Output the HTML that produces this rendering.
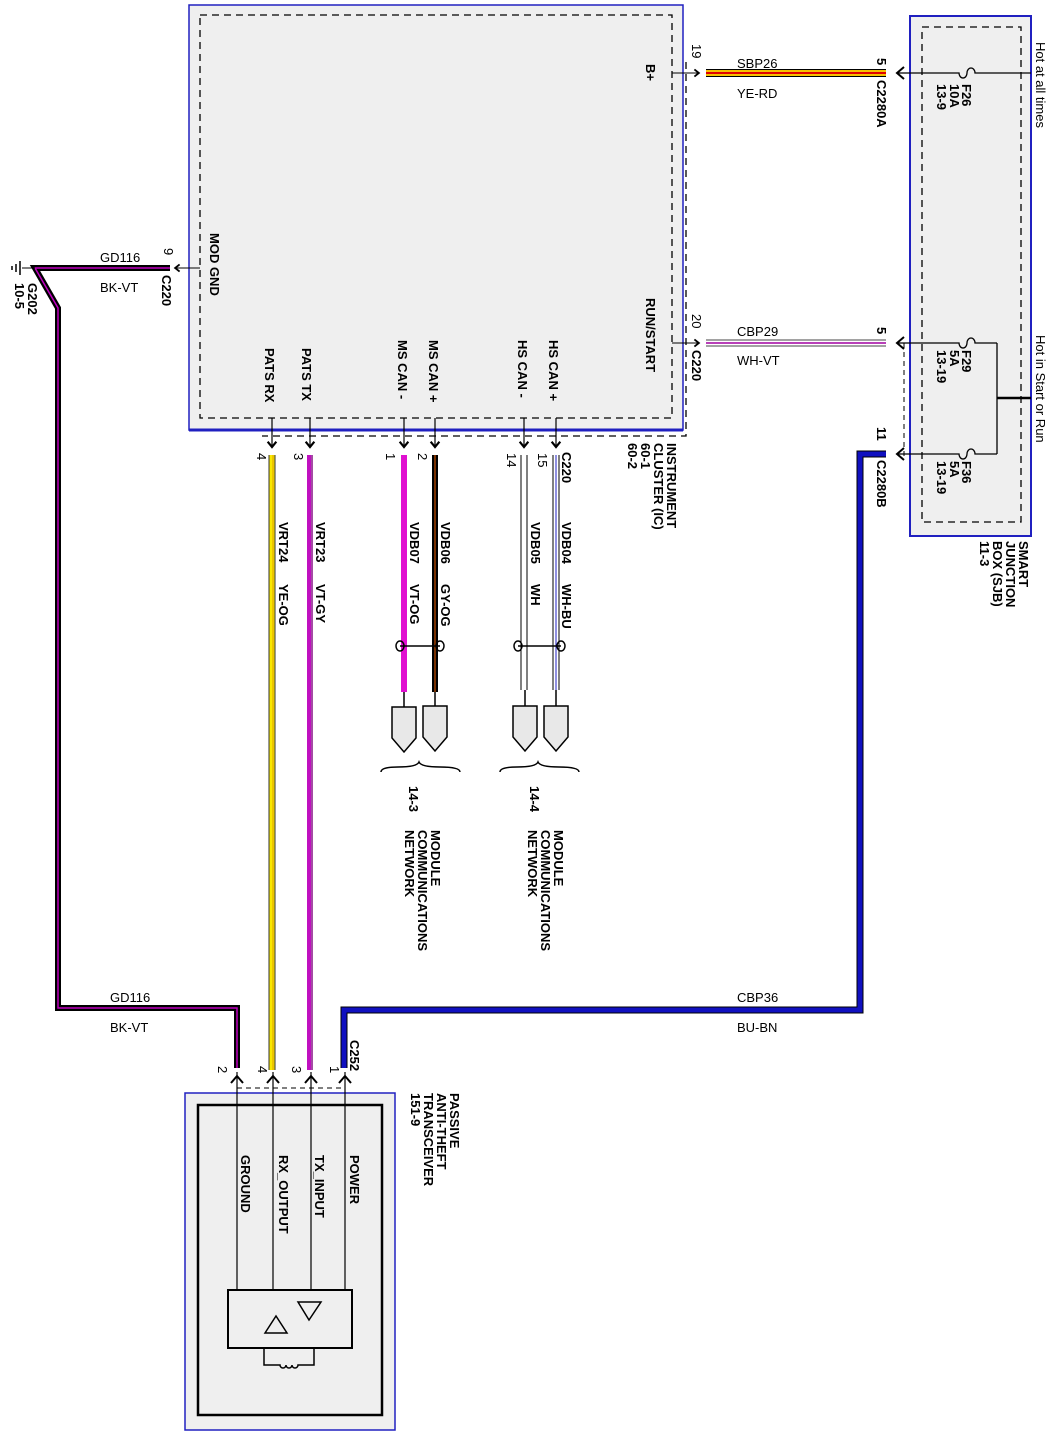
<!DOCTYPE html>
<html><head><meta charset="utf-8"><style>
html,body{margin:0;padding:0;background:#fff}
svg{display:block}
text{font-family:"Liberation Sans",Arial,sans-serif;font-size:13px;fill:#000}
.b{font-weight:bold}
</style></head><body>
<svg width="1063" height="1455" viewBox="0 0 1063 1455" xmlns="http://www.w3.org/2000/svg">
<defs>
<marker id="ar" viewBox="0 0 10 10" refX="5" refY="5" markerWidth="9" markerHeight="9" orient="auto"><path d="M1,1 L6,5 L1,9" fill="none" stroke="#000" stroke-width="2"/></marker>
</defs>
<rect x="189" y="5" width="494" height="425" fill="#efefef" stroke="#2020c0" stroke-width="1.5"/>
<line x1="189" y1="430" x2="683" y2="430" stroke="#2020c0" stroke-width="3"/>
<rect x="200" y="15" width="472" height="403" fill="none" stroke="#000" stroke-dasharray="7,5" stroke-width="1.3"/>
<polyline points="686,62 686,436 262,436" fill="none" stroke="#000" stroke-dasharray="7,5" stroke-width="1.3"/>
<text class="b" transform="translate(210,233) rotate(90)">MOD GND</text>
<text class="b" transform="translate(646,64) rotate(90)">B+</text>
<text class="b" transform="translate(646,298) rotate(90)">RUN/START</text>
<text class="b" transform="translate(265,348) rotate(90)">PATS RX</text>
<text class="b" transform="translate(302,348) rotate(90)">PATS TX</text>
<text class="b" transform="translate(398,340) rotate(90)">MS CAN -</text>
<text class="b" transform="translate(429,340) rotate(90)">MS CAN +</text>
<text class="b" transform="translate(518,340) rotate(90)">HS CAN -</text>
<text class="b" transform="translate(549,340) rotate(90)">HS CAN +</text>
<text class="b" transform="translate(667,443) rotate(90)">INSTRUMENT</text>
<text class="b" transform="translate(654,443) rotate(90)">CLUSTER (IC)</text>
<text class="b" transform="translate(641,443) rotate(90)">60-1</text>
<text class="b" transform="translate(628,443) rotate(90)">60-2</text>

<line x1="672" y1="73" x2="698" y2="73" stroke="#000" marker-end="url(#ar)"/>
<line x1="672" y1="343" x2="698" y2="343" stroke="#000" marker-end="url(#ar)"/>
<line x1="706" y1="73" x2="886" y2="73" stroke="#000" stroke-width="8"/>
<line x1="706" y1="73" x2="886" y2="73" stroke="#f6c000" stroke-width="6"/>
<line x1="706" y1="73" x2="886" y2="73" stroke="#e00000" stroke-width="2"/>
<line x1="706" y1="343" x2="886" y2="343" stroke="#444" stroke-width="7"/>
<line x1="706" y1="343" x2="886" y2="343" stroke="#fff" stroke-width="5"/>
<line x1="706" y1="343" x2="886" y2="343" stroke="#a000a0" stroke-width="1.5"/>
<text x="737" y="68">SBP26</text><text x="737" y="98">YE-RD</text>
<text x="737" y="336">CBP29</text><text x="737" y="365">WH-VT</text>
<text transform="translate(692,44) rotate(90)">19</text>
<text transform="translate(692,314) rotate(90)">20</text>
<text class="b" transform="translate(692,350) rotate(90)">C220</text>
<text class="b" transform="translate(877,58) rotate(90)">5</text>
<text class="b" transform="translate(877,80) rotate(90)">C2280A</text>
<text class="b" transform="translate(877,327) rotate(90)">5</text>
<text class="b" transform="translate(877,427) rotate(90)">11</text>
<text class="b" transform="translate(877,460) rotate(90)">C2280B</text>

<rect x="910" y="16" width="121" height="520" fill="#efefef" stroke="#2020c0" stroke-width="2"/>
<rect x="922" y="27" width="99" height="495" fill="none" stroke="#000" stroke-dasharray="7,5" stroke-width="1.3"/>
<path d="M1031,73 H975 a4,5 0 0 0 -8,0 a4,5 0 0 1 -8,0 H898" fill="none" stroke="#000" stroke-width="1.3"/>
<path d="M997,343 H975 a4,5 0 0 0 -8,0 a4,5 0 0 1 -8,0 H898" fill="none" stroke="#000" stroke-width="1.3"/>
<path d="M997,454 H975 a4,5 0 0 0 -8,0 a4,5 0 0 1 -8,0 H898" fill="none" stroke="#000" stroke-width="1.3"/>
<line x1="997" y1="343" x2="997" y2="454" stroke="#000" stroke-width="1.3"/>
<line x1="997" y1="398" x2="1031" y2="398" stroke="#000" stroke-width="2.5"/>
<polyline points="904,67 897,73 904,79" fill="none" stroke="#000" stroke-width="2"/>
<polyline points="904,337 897,343 904,349" fill="none" stroke="#000" stroke-width="2"/>
<polyline points="904,448 897,454 904,460" fill="none" stroke="#000" stroke-width="2"/>
<polyline points="904,343 904,458" fill="none" stroke="#000" stroke-dasharray="5,4"/>
<text class="b" transform="translate(962,84) rotate(90)">F26</text>
<text class="b" transform="translate(950,84) rotate(90)">10A</text>
<text class="b" transform="translate(937,84) rotate(90)">13-9</text>
<text class="b" transform="translate(962,350) rotate(90)">F29</text>
<text class="b" transform="translate(950,350) rotate(90)">5A</text>
<text class="b" transform="translate(937,350) rotate(90)">13-19</text>
<text class="b" transform="translate(962,461) rotate(90)">F36</text>
<text class="b" transform="translate(950,461) rotate(90)">5A</text>
<text class="b" transform="translate(937,461) rotate(90)">13-19</text>
<text transform="translate(1036,42) rotate(90)">Hot at all times</text>
<text transform="translate(1036,335) rotate(90)">Hot in Start or Run</text>
<text class="b" transform="translate(1019,541) rotate(90)">SMART</text>
<text class="b" transform="translate(1006,541) rotate(90)">JUNCTION</text>
<text class="b" transform="translate(993,541) rotate(90)">BOX (SJB)</text>
<text class="b" transform="translate(980,541) rotate(90)">11-3</text>

<line x1="200" y1="268" x2="176" y2="268" stroke="#000" marker-end="url(#ar)"/>
<polyline points="170,268 35,268 58,308 58,1008 237,1008 237,1068" fill="none" stroke="#000" stroke-width="6"/>
<polyline points="170,268 35,268 58,308 58,1008 237,1008 237,1068" fill="none" stroke="#c000c0" stroke-width="1.5"/>
<line x1="22" y1="268" x2="35" y2="268" stroke="#000"/>
<line x1="20" y1="261" x2="20" y2="275" stroke="#000" stroke-width="1.5"/>
<line x1="16" y1="264" x2="16" y2="272" stroke="#000" stroke-width="1.5"/>
<line x1="12" y1="266" x2="12" y2="270" stroke="#000" stroke-width="1.5"/>
<text x="100" y="262">GD116</text><text x="100" y="292">BK-VT</text>
<text transform="translate(164,248) rotate(90)">9</text>
<text class="b" transform="translate(162,275) rotate(90)">C220</text>
<text class="b" transform="translate(28,283) rotate(90)">G202</text>
<text class="b" transform="translate(15,283) rotate(90)">10-5</text>
<text x="110" y="1002">GD116</text><text x="110" y="1032">BK-VT</text>

<polyline points="886,454 860,454 860,1010 344,1010 344,1068" fill="none" stroke="#000" stroke-width="7"/>
<polyline points="886,454 860,454 860,1010 344,1010 344,1068" fill="none" stroke="#1010c0" stroke-width="5"/>
<text x="737" y="1002">CBP36</text><text x="737" y="1032">BU-BN</text>

<g stroke="#000" stroke-width="1.2" fill="none">
<line x1="272" y1="418" x2="272" y2="446" marker-end="url(#ar)"/>
<line x1="310" y1="418" x2="310" y2="446" marker-end="url(#ar)"/>
<line x1="404" y1="418" x2="404" y2="446" marker-end="url(#ar)"/>
<line x1="435" y1="418" x2="435" y2="446" marker-end="url(#ar)"/>
<line x1="524" y1="418" x2="524" y2="446" marker-end="url(#ar)"/>
<line x1="556" y1="418" x2="556" y2="446" marker-end="url(#ar)"/>
</g>
<line x1="272" y1="455" x2="272" y2="1070" stroke="#333" stroke-width="7"/>
<line x1="272" y1="455" x2="272" y2="1070" stroke="#f8e800" stroke-width="5"/>
<line x1="273" y1="455" x2="273" y2="1070" stroke="#e0a000" stroke-width="1"/>
<line x1="310" y1="455" x2="310" y2="1070" stroke="#c010c0" stroke-width="6"/>
<line x1="312" y1="455" x2="312" y2="1070" stroke="#888" stroke-width="1"/>
<line x1="404" y1="455" x2="404" y2="692" stroke="#e010d0" stroke-width="6"/>
<line x1="435" y1="455" x2="435" y2="692" stroke="#000" stroke-width="6"/>
<line x1="435" y1="455" x2="435" y2="692" stroke="#a04000" stroke-width="1.5"/>
<g stroke="#000" stroke-width="1">
<line x1="521" y1="455" x2="521" y2="690"/><line x1="527" y1="455" x2="527" y2="690"/>
<line x1="553" y1="455" x2="553" y2="690"/><line x1="559" y1="455" x2="559" y2="690"/>
</g>
<line x1="556" y1="455" x2="556" y2="690" stroke="#2020c0" stroke-width="1"/>
<g fill="none" stroke="#000" stroke-width="1.5">
<ellipse cx="400" cy="646" rx="4" ry="5"/><ellipse cx="440" cy="646" rx="4" ry="5"/><line x1="400" y1="646" x2="440" y2="646"/>
<ellipse cx="518" cy="646" rx="4" ry="5"/><ellipse cx="561" cy="646" rx="4" ry="5"/><line x1="518" y1="646" x2="561" y2="646"/>
</g>
<g fill="#e8e8e8" stroke="#000" stroke-width="1.5">
<line x1="404" y1="692" x2="404" y2="707"/><line x1="435" y1="692" x2="435" y2="706"/>
<line x1="525" y1="690" x2="525" y2="706"/><line x1="556" y1="690" x2="556" y2="706"/>
<path d="M392,707 H416 V738 L404,752 L392,738 Z"/>
<path d="M423,706 H447 V737 L435,751 L423,737 Z"/>
<path d="M513,706 H537 V737 L525,751 L513,737 Z"/>
<path d="M544,706 H568 V737 L556,751 L544,737 Z"/>
</g>
<g fill="none" stroke="#000" stroke-width="1.5">
<path d="M381,772 Q381,767 398,767 Q417,767 419,762 Q421,767 440,767 Q460,767 460,772"/>
<path d="M500,772 Q500,767 517,767 Q536,767 538,762 Q540,767 559,767 Q579,767 579,772"/>
</g>
<text class="b" transform="translate(409,786) rotate(90)">14-3</text>
<text class="b" transform="translate(530,786) rotate(90)">14-4</text>
<text class="b" transform="translate(431,830) rotate(90)">MODULE</text>
<text class="b" transform="translate(418,830) rotate(90)">COMMUNICATIONS</text>
<text class="b" transform="translate(405,830) rotate(90)">NETWORK</text>
<text class="b" transform="translate(554,830) rotate(90)">MODULE</text>
<text class="b" transform="translate(541,830) rotate(90)">COMMUNICATIONS</text>
<text class="b" transform="translate(528,830) rotate(90)">NETWORK</text>
<text class="b" transform="translate(279,522) rotate(90)">VRT24</text>
<text class="b" transform="translate(279,584) rotate(90)">YE-OG</text>
<text class="b" transform="translate(316,522) rotate(90)">VRT23</text>
<text class="b" transform="translate(316,584) rotate(90)">VT-GY</text>
<text class="b" transform="translate(410,522) rotate(90)">VDB07</text>
<text class="b" transform="translate(410,584) rotate(90)">VT-OG</text>
<text class="b" transform="translate(441,522) rotate(90)">VDB06</text>
<text class="b" transform="translate(441,584) rotate(90)">GY-OG</text>
<text class="b" transform="translate(531,522) rotate(90)">VDB05</text>
<text class="b" transform="translate(531,584) rotate(90)">WH</text>
<text class="b" transform="translate(562,522) rotate(90)">VDB04</text>
<text class="b" transform="translate(562,584) rotate(90)">WH-BU</text>
<text transform="translate(257,453) rotate(90)">4</text>
<text transform="translate(294,453) rotate(90)">3</text>
<text transform="translate(386,453) rotate(90)">1</text>
<text transform="translate(418,453) rotate(90)">2</text>
<text transform="translate(507,453) rotate(90)">14</text>
<text transform="translate(538,453) rotate(90)">15</text>
<text class="b" transform="translate(562,452) rotate(90)">C220</text>

<rect x="185" y="1093" width="210" height="337" fill="#efefef" stroke="#2020c0" stroke-width="1.5"/>
<rect x="198" y="1105" width="184" height="310" fill="#efefef" stroke="#000" stroke-width="2.5"/>
<line x1="237" y1="1088" x2="345" y2="1088" stroke="#000" stroke-dasharray="5,4"/>
<g stroke="#000" stroke-width="1.2" fill="none">
<line x1="237" y1="1290" x2="237" y2="1072"/><line x1="273" y1="1290" x2="273" y2="1072"/>
<line x1="311" y1="1290" x2="311" y2="1072"/><line x1="345" y1="1290" x2="345" y2="1072"/>
<polyline points="231,1083 237,1076 243,1083" stroke-width="2"/>
<polyline points="267,1083 273,1076 279,1083" stroke-width="2"/>
<polyline points="305,1083 311,1076 317,1083" stroke-width="2"/>
<polyline points="339,1083 345,1076 351,1083" stroke-width="2"/>
</g>
<rect x="228" y="1290" width="124" height="58" fill="#efefef" stroke="#000" stroke-width="2"/>
<path d="M265,1333 L276,1316 L287,1333 Z" fill="none" stroke="#000" stroke-width="1.5"/>
<path d="M298,1302 L321,1302 L309,1320 Z" fill="none" stroke="#000" stroke-width="1.5"/>
<path d="M264,1348 V1365 H280 a3,3 0 0 0 6,0 a3,3 0 0 0 6,0 a3,3 0 0 0 6,0 H314 V1348" fill="none" stroke="#000" stroke-width="1.5"/>
<text class="b" transform="translate(350,1155) rotate(90)">POWER</text>
<text class="b" transform="translate(315,1155) rotate(90)">TX_INPUT</text>
<text class="b" transform="translate(279,1155) rotate(90)">RX_OUTPUT</text>
<text class="b" transform="translate(241,1155) rotate(90)">GROUND</text>
<text class="b" transform="translate(350,1040) rotate(90)">C252</text>
<text transform="translate(330,1066) rotate(90)">1</text>
<text transform="translate(292,1066) rotate(90)">3</text>
<text transform="translate(258,1066) rotate(90)">4</text>
<text transform="translate(218,1066) rotate(90)">2</text>
<text class="b" transform="translate(450,1093) rotate(90)">PASSIVE</text>
<text class="b" transform="translate(437,1093) rotate(90)">ANTI-THEFT</text>
<text class="b" transform="translate(424,1093) rotate(90)">TRANSCEIVER</text>
<text class="b" transform="translate(411,1093) rotate(90)">151-9</text>
</svg>
</body></html>
